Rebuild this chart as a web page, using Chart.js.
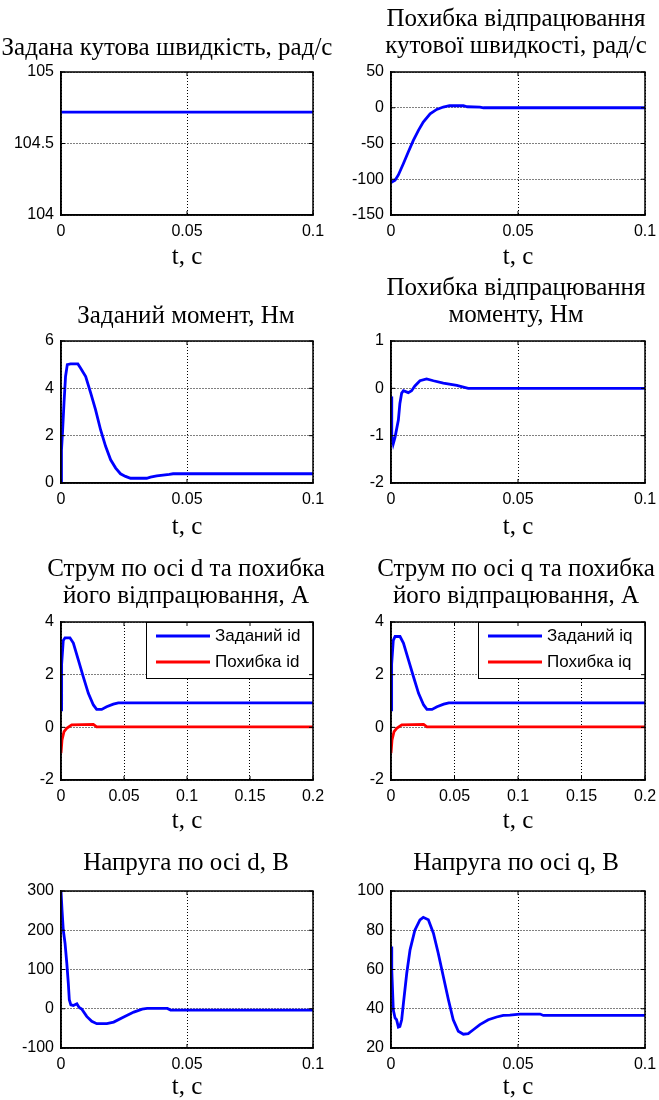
<!DOCTYPE html>
<html>
<head>
<meta charset="utf-8">
<script src="https://cdn.jsdelivr.net/npm/chart.js@4"></script>
<style>
  html, body { margin: 0; background: #fff; }
  body { position: relative; width: 659px; height: 1100px; overflow: hidden; }
  canvas { position: absolute; }
</style>
</head>
<body>
<script>
// values (time in s)
const speedRefT = [0, 0.1];
const speedRef = [104.72, 104.72];

const speedErrT = [0, 0.0016, 0.0029, 0.0049, 0.0068, 0.0088, 0.0108, 0.0127, 0.0154, 0.018, 0.0206, 0.023, 0.0285, 0.03, 0.035, 0.0364, 0.1];
const speedErr = [-104.7, -101.4, -94, -78, -62, -45.6, -31.6, -20, -8.4, -2.3, 1, 2.8, 2.8, 1.4, 1, 0, 0];

const torqueRefT = [0, 0.00013, 0.00026, 0.00066, 0.0012, 0.0018, 0.0025, 0.0038, 0.0067, 0.0078, 0.0098, 0.0118, 0.0137, 0.0157, 0.0177, 0.0197, 0.0217, 0.0236, 0.0256, 0.0276, 0.034, 0.0355, 0.038, 0.043, 0.0445, 0.1];
const torqueRef = [0, 0.14, 1.4, 2.25, 3.4, 4.5, 5.0, 5.03, 5.03, 4.85, 4.5, 3.8, 3.1, 2.25, 1.55, 0.98, 0.63, 0.39, 0.28, 0.2, 0.2, 0.25, 0.3, 0.36, 0.39, 0.39];

const torqueErrT = [0, 0.0003, 0.0009, 0.0016, 0.0029, 0.0035, 0.0042, 0.0049, 0.0068, 0.0081, 0.0094, 0.0114, 0.014, 0.0167, 0.0206, 0.0259, 0.0304, 0.1];
const torqueErr = [-0.17, -1.0, -1.17, -1.03, -0.67, -0.32, -0.1, -0.05, -0.09, -0.05, 0.05, 0.16, 0.2, 0.16, 0.11, 0.06, 0, 0];

const idRefT = [0, 0.0005, 0.0018, 0.0032, 0.0071, 0.0098, 0.0138, 0.0177, 0.0217, 0.0257, 0.0283, 0.0323, 0.0362, 0.0415, 0.0455, 0.2];
const idRef = [0.66, 2.4, 3.3, 3.4, 3.4, 3.2, 2.55, 1.92, 1.29, 0.85, 0.68, 0.68, 0.78, 0.88, 0.93, 0.93];
const idErrT = [0, 0.0008, 0.0024, 0.0045, 0.0085, 0.0257, 0.0283, 0.2];
const idErr = [-0.98, -0.48, -0.16, -0.04, 0.09, 0.11, 0.02, 0.02];

const iqRefT = [0, 0.0005, 0.0018, 0.0032, 0.0071, 0.0098, 0.0138, 0.0177, 0.0217, 0.0257, 0.0283, 0.0323, 0.0362, 0.0415, 0.0455, 0.2];
const iqRef = [0.66, 2.4, 3.3, 3.45, 3.45, 3.2, 2.55, 1.92, 1.29, 0.85, 0.68, 0.68, 0.78, 0.88, 0.93, 0.93];
const iqErrT = [0, 0.0008, 0.0024, 0.0045, 0.0085, 0.0257, 0.0283, 0.2];
const iqErr = [-0.98, -0.48, -0.16, -0.04, 0.09, 0.11, 0.02, 0.02];

const udT = [0, 0.0004, 0.0009, 0.0016, 0.0023, 0.0029, 0.0033, 0.0039, 0.0049, 0.0063, 0.0072, 0.0082, 0.0102, 0.0122, 0.0142, 0.0182, 0.0209, 0.0249, 0.0289, 0.0322, 0.0342, 0.0422, 0.0435, 0.1];
const ud = [300, 252, 201, 167, 116, 65, 23, 10, 8.5, 12.7, 3.4, -0.8, -19.5, -32, -38, -38, -34, -21, -8.5, -0.8, 0.8, 0.8, -3.4, -3.4];

const uqT = [0, 0.0003, 0.0007, 0.0009, 0.0016, 0.0022, 0.0029, 0.0035, 0.0042, 0.0049, 0.0062, 0.0075, 0.0094, 0.0114, 0.0127, 0.0147, 0.0167, 0.0186, 0.0206, 0.0226, 0.0245, 0.0265, 0.0285, 0.0304, 0.0324, 0.035, 0.0383, 0.0416, 0.0442, 0.0468, 0.0508, 0.0587, 0.06, 0.1];
const uq = [71.7, 59.8, 46.3, 39.5, 35.3, 34.4, 30.7, 31, 34.4, 42.9, 58.1, 70, 80, 85.3, 86.6, 85.3, 78.5, 68.3, 56.4, 44.6, 34.4, 28.5, 27, 27.3, 29.3, 31.9, 34.4, 35.8, 36.6, 36.8, 37.3, 37.3, 36.6, 36.6];

const BLUE = '#0000ff';
const RED = '#ff0000';
const SERIF = 'Liberation Serif';
const SANS = 'Liberation Sans';

const pts = (t, v) => t.map((x, i) => ({ x, y: v[i] }));
const fmt = (v) => String(+Number(v).toFixed(4));

const line = (label, t, v, color) => ({
  label,
  data: pts(t, v),
  borderColor: color,
  borderWidth: 2.8,
  pointRadius: 0,
  tension: 0,
});

// box round the plot area with inward tick marks, matlab style
const frame = {
  id: 'frame',
  afterDraw(chart) {
    const { ctx, chartArea: a, scales: { x, y } } = chart;
    ctx.save();
    ctx.strokeStyle = '#000';
    ctx.lineWidth = 1.5;
    ctx.strokeRect(a.left, a.top, a.width, a.height);
    ctx.lineWidth = 1;
    ctx.beginPath();
    x.ticks.forEach((t) => {
      const px = x.getPixelForValue(t.value);
      ctx.moveTo(px, a.bottom); ctx.lineTo(px, a.bottom - 4);
      ctx.moveTo(px, a.top); ctx.lineTo(px, a.top + 4);
    });
    y.ticks.forEach((t) => {
      const py = y.getPixelForValue(t.value);
      ctx.moveTo(a.left, py); ctx.lineTo(a.left + 4, py);
      ctx.moveTo(a.right, py); ctx.lineTo(a.right - 4, py);
    });
    ctx.stroke();
    ctx.restore();
  },
};

// boxed legend in the top right corner of the plot area
const boxLegend = {
  id: 'boxLegend',
  afterDatasetsDraw(chart) {
    const { ctx, chartArea: a } = chart;
    const w = 167, h = 56;
    const x0 = a.right - w, y0 = a.top;
    ctx.save();
    ctx.fillStyle = '#fff';
    ctx.fillRect(x0, y0, w, h);
    ctx.strokeStyle = '#000';
    ctx.lineWidth = 1;
    ctx.strokeRect(x0 + 0.5, y0 + 0.5, w, h);
    ctx.font = '17px "' + SANS + '"';
    ctx.textBaseline = 'middle';
    chart.data.datasets.forEach((ds, i) => {
      const ly = y0 + 14 + i * 26;
      ctx.strokeStyle = ds.borderColor;
      ctx.lineWidth = 2.8;
      ctx.beginPath();
      ctx.moveTo(x0 + 10, ly);
      ctx.lineTo(x0 + 64, ly);
      ctx.stroke();
      ctx.fillStyle = '#000';
      ctx.fillText(ds.label, x0 + 69, ly);
    });
    ctx.restore();
  },
};

const tickFont = { family: SANS, size: 16 };
const titleFont = { family: SERIF, size: 25, weight: 'normal', lineHeight: 1.08 };
const gridOpts = { color: '#000', lineWidth: 1, drawTicks: false };
const dotted = { color: '#000', width: 1.5, dash: [1, 2] };

// the title box runs from the canvas' left edge to the right axis,
// so an empty right axis (yR) keeps the title centred above the plot
function makeChart(p) {
  const cv = document.createElement('canvas');
  cv.width = p.w;
  cv.height = p.h;
  cv.style.left = p.left + 'px';
  cv.style.top = p.top + 'px';
  document.body.appendChild(cv);

  new Chart(cv, {
    type: 'line',
    data: { datasets: p.datasets },
    plugins: p.legend ? [frame, boxLegend] : [frame],
    options: {
      responsive: false,
      animation: false,
      events: [],
      layout: { padding: 0 },
      plugins: {
        legend: { display: false },
        tooltip: { enabled: false },
        title: {
          display: true,
          text: p.title,
          color: '#000',
          font: titleFont,
          padding: { top: p.tPad, bottom: p.bPad },
        },
      },
      scales: {
        x: {
          type: 'linear',
          min: 0,
          max: p.xMax,
          ticks: {
            stepSize: 0.05,
            color: '#000',
            font: tickFont,
            padding: 7,
            maxRotation: 0,
            autoSkip: false,
            callback: fmt,
          },
          grid: gridOpts,
          border: dotted,
          title: {
            display: true,
            text: 't, c',
            color: '#000',
            font: { family: SERIF, size: 25, lineHeight: 1 },
            padding: 0,
          },
          afterFit: (s) => { s.height = p.xAxisH; },
        },
        y: {
          min: p.yMin,
          max: p.yMax,
          ticks: {
            stepSize: p.yStep,
            color: '#000',
            font: tickFont,
            padding: 7,
            callback: fmt,
          },
          grid: gridOpts,
          border: dotted,
          afterFit: (s) => { s.width = 61; },
        },
        yR: {
          position: 'right',
          min: 0,
          max: 1,
          ticks: { display: false },
          grid: { display: false, drawTicks: false },
          border: { display: false },
          afterFit: (s) => { s.width = p.rightGap; },
        },
      },
    },
  });
}

makeChart({
  left: 0, top: 0, w: 334, h: 270, rightGap: 21, xAxisH: 55, tPad: 35, bPad: 10,
  title: 'Задана кутова швидкість, рад/с',
  xMax: 0.1, yMin: 104, yMax: 105, yStep: 0.5,
  datasets: [line('Задана швидкість', speedRefT, speedRef, BLUE)],
});
makeChart({
  left: 330, top: 0, w: 372, h: 270, rightGap: 57, xAxisH: 55, tPad: 6, bPad: 12,
  title: ['Похибка відпрацювання', 'кутової швидкості, рад/с'],
  xMax: 0.1, yMin: -150, yMax: 50, yStep: 50,
  datasets: [line('Похибка швидкості', speedErrT, speedErr, BLUE)],
});
makeChart({
  left: 0, top: 270, w: 372, h: 270, rightGap: 59, xAxisH: 57, tPad: 33, bPad: 11,
  title: 'Заданий момент, Нм',
  xMax: 0.1, yMin: 0, yMax: 6, yStep: 2,
  datasets: [line('Заданий момент', torqueRefT, torqueRef, BLUE)],
});
makeChart({
  left: 330, top: 270, w: 372, h: 270, rightGap: 57, xAxisH: 57, tPad: 5, bPad: 12,
  title: ['Похибка відпрацювання', 'моменту, Нм'],
  xMax: 0.1, yMin: -2, yMax: 1, yStep: 1,
  datasets: [line('Похибка моменту', torqueErrT, torqueErr, BLUE)],
});
makeChart({
  left: 0, top: 550, w: 372, h: 284, rightGap: 59, xAxisH: 54, tPad: 6, bPad: 12,
  title: ['Струм по осі d та похибка', 'його відпрацювання, А'],
  xMax: 0.2, yMin: -2, yMax: 4, yStep: 2, legend: true,
  datasets: [line('Заданий id', idRefT, idRef, BLUE), line('Похибка id', idErrT, idErr, RED)],
});
makeChart({
  left: 330, top: 550, w: 372, h: 284, rightGap: 57, xAxisH: 54, tPad: 6, bPad: 12,
  title: ['Струм по осі q та похибка', 'його відпрацювання, А'],
  xMax: 0.2, yMin: -2, yMax: 4, yStep: 2, legend: true,
  datasets: [line('Заданий iq', iqRefT, iqRef, BLUE), line('Похибка iq', iqErrT, iqErr, RED)],
});
makeChart({
  left: 0, top: 830, w: 372, h: 270, rightGap: 59, xAxisH: 52, tPad: 20, bPad: 14,
  title: 'Напруга по осі d, В',
  xMax: 0.1, yMin: -100, yMax: 300, yStep: 100,
  datasets: [line('Напруга ud', udT, ud, BLUE)],
});
makeChart({
  left: 330, top: 830, w: 372, h: 270, rightGap: 57, xAxisH: 52, tPad: 20, bPad: 14,
  title: 'Напруга по осі q, В',
  xMax: 0.1, yMin: 20, yMax: 100, yStep: 20,
  datasets: [line('Напруга uq', uqT, uq, BLUE)],
});
</script>
</body>
</html>
